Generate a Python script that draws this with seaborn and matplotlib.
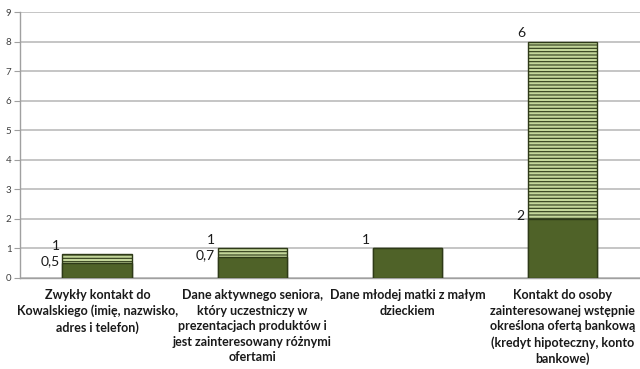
import matplotlib
matplotlib.use("Agg")
import matplotlib.pyplot as plt
import seaborn as sns
import pandas as pd

categories = [
    "Zwykły kontakt do\nKowalskiego (imię, nazwisko,\nadres i telefon)",
    "Dane aktywnego seniora,\nktóry uczestniczy w\nprezentacjach produktów i\njest zainteresowany różnymi\nofertami",
    "Dane młodej matki z małym\ndzieckiem",
    "Kontakt do osoby\nzainteresowanej wstępnie\nokreślona ofertą bankową\n(kredyt hipoteczny, konto\nbankowe)",
]
bottom_values = [0.5, 0.7, 1.0, 2.0]
top_values = [0.3, 0.3, 0.0, 6.0]
bottom_labels = ["0,5", "0,7", "", "2"]
top_labels = ["1", "1", "1", "6"]
y_ticks = [0, 1, 2, 3, 4, 5, 6, 7, 8, 9]

sns.set_theme(style="white")
plt.rcParams["font.family"] = ["Lato", "DejaVu Sans"]

df = pd.DataFrame({
    "cat": categories,
    "bottom": bottom_values,
    "total": [b + t for b, t in zip(bottom_values, top_values)],
})

fig = plt.figure(figsize=(6.4, 3.69), dpi=100)
ax = fig.add_axes([0.031, 0.247, 0.969, 0.72])

dark = "#4f6228"
light = "#c4d79b"
edge = "#2e3a18"
plt.rcParams["hatch.linewidth"] = 0.8

sns.barplot(data=df, x="cat", y="total", ax=ax, color=light, width=0.45,
            saturation=1, edgecolor=edge, linewidth=1.0, hatch="-----", zorder=3)
sns.barplot(data=df, x="cat", y="bottom", ax=ax, color=dark, width=0.45,
            saturation=1, edgecolor=edge, linewidth=1.0, zorder=4)

ax.set_xlim(-0.5, 3.5)
ax.set_ylim(0, 9)
ax.set_yticks(y_ticks)
ax.set_yticklabels([str(v) for v in y_ticks], fontsize=7, color="#404040")
ax.yaxis.grid(True, color="#c0c0c0", linewidth=1.3, zorder=0)
ax.set_axisbelow(True)
ax.set_xlabel("")
ax.set_ylabel("")

ax.set_xticks(range(len(categories)))
ax.set_xticklabels(categories, fontsize=9.0, fontweight="bold", color="#1a1a1a",
                   linespacing=1.36, va="top")
ax.tick_params(axis="x", length=0, pad=8)
ax.set_xticks([0.5, 1.5, 2.5], minor=True)
ax.tick_params(axis="x", which="minor", length=4, color="#a0a0a0", width=0.8, direction="out")
ax.tick_params(axis="y", length=4, color="#a0a0a0", width=0.8, direction="out", pad=2, left=True)

for s in ["top", "right"]:
    ax.spines[s].set_visible(False)
for s in ["left", "bottom"]:
    ax.spines[s].set_color("#a0a0a0")
    ax.spines[s].set_linewidth(1.0)

half = 0.45 / 2
for i in range(len(categories)):
    total = bottom_values[i] + top_values[i]
    if top_labels[i]:
        ax.text(i - half - 0.04, total + 0.28, top_labels[i], ha="center", va="center",
                fontsize=10, color="#1a1a1a", zorder=5)
    if bottom_labels[i]:
        ax.text(i - half - 0.02, bottom_values[i] + 0.08, bottom_labels[i], ha="right",
                va="center", fontsize=10, color="#1a1a1a", zorder=5)

fig.savefig("out.png", dpi=100)
